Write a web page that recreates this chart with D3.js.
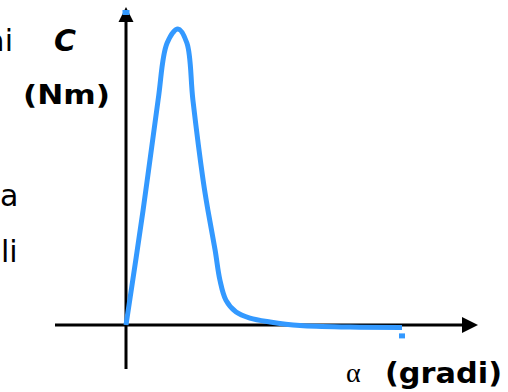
<!DOCTYPE html>
<html>
<head>
<meta charset="utf-8">
<script src="https://cdn.jsdelivr.net/npm/d3@7"></script>
<style>
  body { margin: 0; background: #fff; }
  svg { display: block; }
  .lbl { font-family: "Comic Sans MS", "DejaVu Sans", sans-serif; fill: #000; }
</style>
</head>
<body>
<div id="chart"></div>
<script>
var width = 508,
    height = 392;

// curve C(alpha), arbitrary units
const alpha = [0, 5.7, 10.7, 13.7, 17.3, 20.3, 22.3, 25.7, 27.3, 29.7, 31.3, 33.3, 36.7, 41.3, 48, 58, 74.7, 92];
const torque = [0, 38.3, 75, 94, 98.7, 94, 75, 48.3, 38.3, 25, 15, 8.3, 4.3, 2.3, 1, -0.2, -0.7, -0.8];

const yLabel = ["C", "(Nm)"];
const xLabelSym = "\u03b1";
const xLabel = "(gradi)";
const sideText = ["ai", "a", "li"];   // clipped words at the left edge

var data = alpha.map((a, i) => ({ a: a, c: torque[i] }));

var xScale = d3.scaleLinear().domain([0, 100]).range([126, 426]),
    yScale = d3.scaleLinear().domain([0, 100]).range([325, 25]);

var svg = d3.select("#chart")
    .append("svg")
    .attr("width", width)
    .attr("height", height);

// axes as plain arrows
var x0 = xScale(0), y0 = yScale(0);

svg.append("line")
    .attr("x1", 55).attr("y1", y0)
    .attr("x2", 465).attr("y2", y0)
    .attr("stroke", "#000").attr("stroke-width", 3);
svg.append("path")
    .attr("d", "M462," + (y0 - 8) + "L478," + y0 + "L462," + (y0 + 8) + "Z")
    .attr("fill", "#000");

svg.append("line")
    .attr("x1", x0).attr("y1", 369)
    .attr("x2", x0).attr("y2", 20)
    .attr("stroke", "#000").attr("stroke-width", 3);
svg.append("path")
    .attr("d", "M" + (x0 - 7.5) + ",22L" + x0 + ",7L" + (x0 + 7.5) + ",22Z")
    .attr("fill", "#000");
// little blue speck at the arrow tip
svg.append("rect")
    .attr("x", x0 - 3.5).attr("y", 10).attr("width", 7).attr("height", 5)
    .attr("fill", "#3399ff");

// curve
var line = d3.line()
    .x(d => xScale(d.a))
    .y(d => yScale(d.c))
    .curve(d3.curveCatmullRom.alpha(0.5));

svg.append("path")
    .datum(data)
    .attr("d", line)
    .attr("fill", "none")
    .attr("stroke", "#3399ff")
    .attr("stroke-width", 5)
    .attr("stroke-linejoin", "round");

// end marker below the last point
var last = data[data.length - 1];
svg.append("rect")
    .attr("x", xScale(last.a) - 3).attr("y", yScale(last.c) + 6)
    .attr("width", 6).attr("height", 5)
    .attr("fill", "#3399ff");

// labels
svg.append("text").attr("class", "lbl")
    .attr("x", 54).attr("y", 51)
    .style("font-size", "30px")
    .style("font-weight", "bold").style("font-style", "italic")
    .text(yLabel[0]);
svg.append("text").attr("class", "lbl")
    .attr("x", 23).attr("y", 104)
    .style("font-size", "27px")
    .style("font-weight", "bold")
    .attr("textLength", 87).attr("lengthAdjust", "spacingAndGlyphs")
    .text(yLabel[1]);

svg.append("text")
    .attr("x", 346).attr("y", 382)
    .style("font-family", "'Liberation Serif', serif")
    .style("font-size", "28px")
    .text(xLabelSym);
svg.append("text").attr("class", "lbl")
    .attr("x", 385).attr("y", 383)
    .style("font-size", "28px")
    .style("font-weight", "bold")
    .attr("textLength", 117).attr("lengthAdjust", "spacingAndGlyphs")
    .text(xLabel);

// words cut by the left edge, as in the slide
var sideX = [13, 0, 1],
    sideY = [51, 206, 262],
    sideAnchor = ["end", "start", "start"];
sideText.forEach((t, i) => {
    svg.append("text").attr("class", "lbl")
        .attr("x", sideX[i]).attr("y", sideY[i])
        .attr("text-anchor", sideAnchor[i])
        .style("font-size", "30px")
        .text(t);
});
</script>
</body>
</html>
